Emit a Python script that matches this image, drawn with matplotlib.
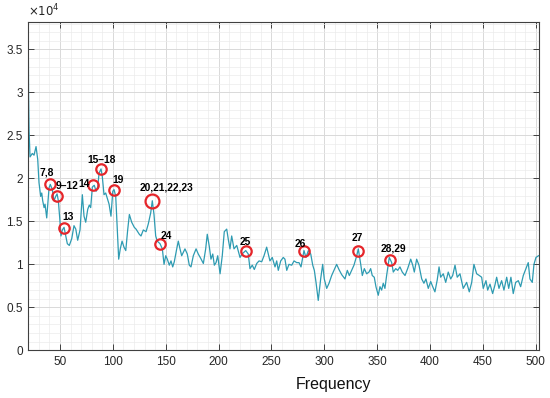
import numpy as np
import matplotlib
matplotlib.use("Agg")
import matplotlib.pyplot as plt
from matplotlib.ticker import MultipleLocator, FuncFormatter

# spectrum trace (frequency, amplitude in units of 1e4)
freq = [20.0, 20.2, 20.7, 21.6, 23.8, 25.4, 27.3, 28.9, 30.1, 31.7, 32.7, 33.6, 34.9, 35.8,
        37.4, 39.6, 40.8, 42.7, 44.3, 45.9, 47.2, 48.4, 49.7, 50.9, 52.2, 53.8, 55.4, 56.9,
        58.8, 61.1, 63.2, 64.9, 66.7, 68.9, 71.1, 72.7, 74.3, 76.2, 77.7, 79.0, 80.6, 82.4,
        84.1, 85.7, 86.9, 88.8, 90.0, 91.6, 93.2, 94.7, 96.4, 98.2, 99.9, 101.1, 102.7, 104.2,
        105.5, 107.0, 108.7, 110.5, 112.2, 114.0, 115.6, 117.8, 120.3, 121.9, 125.0, 126.6,
        128.8, 131.4, 133.5, 135.8, 137.3, 138.9, 140.5, 142.0, 144.6, 146.8, 148.4, 150.0,
        151.5, 153.4, 155.0, 156.6, 158.1, 160.4, 161.9, 163.5, 165.1, 166.6, 168.2, 170.4,
        172.3, 173.9, 176.1, 178.7, 180.8, 183.1, 185.6, 187.8, 189.3, 191.2, 192.8, 194.5,
        196.0, 197.6, 199.2, 201.4, 203.5, 205.4, 207.7, 209.2, 210.8, 212.4, 214.6, 217.2,
        220.3, 222.2, 225.7, 228.1, 229.7, 231.9, 233.8, 236.1, 238.3, 240.8, 243.0, 245.5,
        247.0, 248.6, 250.8, 253.4, 255.0, 256.5, 258.8, 261.2, 262.8, 264.5, 266.6, 269.2,
        271.4, 273.9, 276.1, 278.0, 279.6, 280.8, 282.7, 284.9, 287.2, 289.1, 290.6, 292.2,
        294.3, 296.6, 298.5, 300.0, 302.3, 304.5, 307.0, 309.2, 311.7, 313.9, 316.5, 319.6,
        321.8, 323.7, 325.9, 328.1, 330.7, 332.2, 334.5, 336.0, 337.9, 340.1, 342.3, 343.9,
        345.4, 347.3, 348.9, 351.1, 352.7, 354.3, 355.8, 357.4, 359.0, 361.5, 363.8, 365.3,
        367.6, 369.5, 371.6, 373.8, 376.4, 378.9, 381.8, 383.7, 385.2, 387.4, 389.6, 392.2,
        394.3, 396.2, 398.4, 400.7, 402.6, 404.7, 406.9, 408.6, 410.1, 412.6, 414.9, 417.3,
        419.6, 421.5, 423.7, 425.8, 428.4, 431.5, 434.7, 437.2, 439.5, 441.6, 444.2, 446.7,
        448.9, 450.4, 453.0, 454.6, 456.8, 459.3, 461.5, 463.1, 465.3, 467.8, 470.0, 472.6,
        474.5, 476.6, 478.8, 481.1, 483.6, 485.8, 488.3, 490.8, 493.0, 494.6, 496.8, 498.4,
        500.3, 502.7]
amp = [3.55, 3.00, 2.56, 2.25, 2.29, 2.27, 2.37, 2.22, 1.95, 1.79, 1.83, 1.74, 1.66, 1.70,
       1.54, 1.89, 1.93, 1.87, 1.74, 1.79, 1.82, 1.74, 1.54, 1.33, 1.40, 1.43, 1.33, 1.24,
       1.22, 1.30, 1.45, 1.41, 1.28, 1.40, 1.81, 1.56, 1.49, 1.64, 1.69, 1.66, 1.90, 1.92,
       1.85, 1.90, 2.06, 2.11, 2.02, 1.81, 1.83, 1.77, 1.70, 1.56, 1.85, 1.87, 1.79, 1.41,
       1.06, 1.18, 1.27, 1.20, 1.16, 1.40, 1.58, 1.49, 1.43, 1.41, 1.35, 1.33,
       1.40, 1.38, 1.47, 1.60, 1.74, 1.58, 1.33, 1.27, 1.24, 1.18, 1.00, 1.10,
       1.06, 0.99, 1.04, 0.97, 1.03, 1.18, 1.27, 1.18, 1.10, 1.14, 1.18, 1.12,
       0.99, 0.97, 1.10, 1.18, 1.12, 1.07, 1.01, 1.18, 1.35, 1.21, 1.06, 1.12,
       0.99, 1.02, 1.10, 0.89, 1.10, 1.38, 1.41, 1.29, 1.18, 1.33, 1.18, 1.22,
       1.08, 1.12, 1.16, 1.12, 0.95, 0.99, 0.94, 1.01, 1.04, 1.03, 1.10, 1.20,
       1.12, 1.04, 1.08, 0.97, 1.04, 0.93, 1.04, 1.08, 1.06, 0.93, 1.00, 0.99,
       1.04, 1.02, 1.02, 0.97, 1.08, 1.16, 1.08, 1.16, 1.12, 0.99, 0.93, 0.79,
       0.58, 0.83, 1.00, 0.83, 0.72, 0.78, 0.87, 0.93, 1.00, 0.94, 0.88, 0.83,
       0.93, 0.87, 0.93, 0.99, 1.10, 1.18, 1.00, 0.87, 0.95, 0.89, 0.91, 0.95,
       0.87, 0.85, 0.74, 0.64, 0.74, 0.70, 0.78, 0.72, 0.87, 1.08, 1.02, 0.91,
       0.95, 0.93, 0.97, 0.91, 0.87, 0.95, 1.06, 0.99, 0.91, 1.06, 0.99, 0.83,
       0.78, 0.83, 0.72, 0.80, 0.74, 0.68, 0.82, 0.97, 0.85, 0.89, 0.79, 0.91,
       0.83, 0.87, 0.99, 0.85, 0.89, 0.72, 0.79, 0.68, 0.79, 1.00, 0.89, 0.87,
       0.85, 0.72, 0.81, 0.70, 0.77, 0.66, 0.76, 0.85, 0.72, 0.81, 0.70, 0.85,
       0.72, 0.85, 0.66, 0.79, 0.81, 0.74, 0.87, 0.95, 1.02, 0.83, 0.79, 1.00,
       1.08, 1.10]

# marked peaks and their labels
peak_f = [40.8, 47.2, 53.8, 81.5, 88.8, 100.8, 137.3, 144.6, 225.7, 280.8, 332.2, 362.2]
peak_a = [1.93, 1.80, 1.42, 1.92, 2.11, 1.86, 1.74, 1.24, 1.15, 1.15, 1.16, 1.05]
peak_labels = ["7,8", "9\u201312", "13", "14", "15\u201318", "19", "20,21,22,23",
               "24", "25", "26", "27", "28,29"]
label_offsets = [(-4, 12), (10, 10), (4, 11), (-9, 1), (1, 9), (4, 10), (14, 13),
                 (6, 8), (0, 9), (-4, 7), (-1, 13), (3, 12)]

plt.rcParams['font.family'] = ['Liberation Sans', 'DejaVu Sans']

fig = plt.figure(figsize=(5.5, 3.98), dpi=100)
ax = fig.add_axes([0.0515, 0.1199, 0.9276, 0.8249])

ax.plot(freq, amp, color='#2e9bb2', lw=0.9, solid_joinstyle='round')

for i, (f, a) in enumerate(zip(peak_f, peak_a)):
    big = peak_labels[i] == "20,21,22,23"
    ax.plot(f, a, marker='o', ms=10 if big else 7.5, mfc='none', mec='#e5252a',
            mew=1.6, zorder=5)
    ax.annotate(peak_labels[i], (f, a), xytext=label_offsets[i],
                textcoords='offset pixels', ha='center', va='center',
                fontsize=7.4, fontweight='bold', color='black', zorder=6)

ax.set_xlim(20, 502.7)
ax.set_ylim(0, 3.82)
ax.xaxis.set_major_locator(MultipleLocator(50))
ax.xaxis.set_minor_locator(MultipleLocator(10))
ax.yaxis.set_major_locator(MultipleLocator(0.5))
ax.yaxis.set_minor_locator(MultipleLocator(0.1))
ax.yaxis.set_major_formatter(FuncFormatter(lambda v, p: f"{v:g}"))

ax.grid(which='major', color='#d9d9d9', lw=0.7)
ax.grid(which='minor', color='#ebebeb', lw=0.5)
ax.set_axisbelow(True)

ax.tick_params(which='major', direction='in', length=4, width=0.7, top=True, right=True,
               labelsize=8.5, labelcolor='#262626', color='#404040', pad=4)
ax.tick_params(which='minor', length=0, top=True, right=True)
for s in ax.spines.values():
    s.set_color('#404040')
    s.set_linewidth(0.8)

ax.text(0.0, 1.008, r"$\times10^{4}$", transform=ax.transAxes, fontsize=8.5,
        color='#262626', ha='left', va='bottom')
ax.text(0.598, -0.103, "Frequency", transform=ax.transAxes, fontsize=11.5,
        color='#111111', ha='center', va='center')

fig.savefig("out.png", dpi=100)
